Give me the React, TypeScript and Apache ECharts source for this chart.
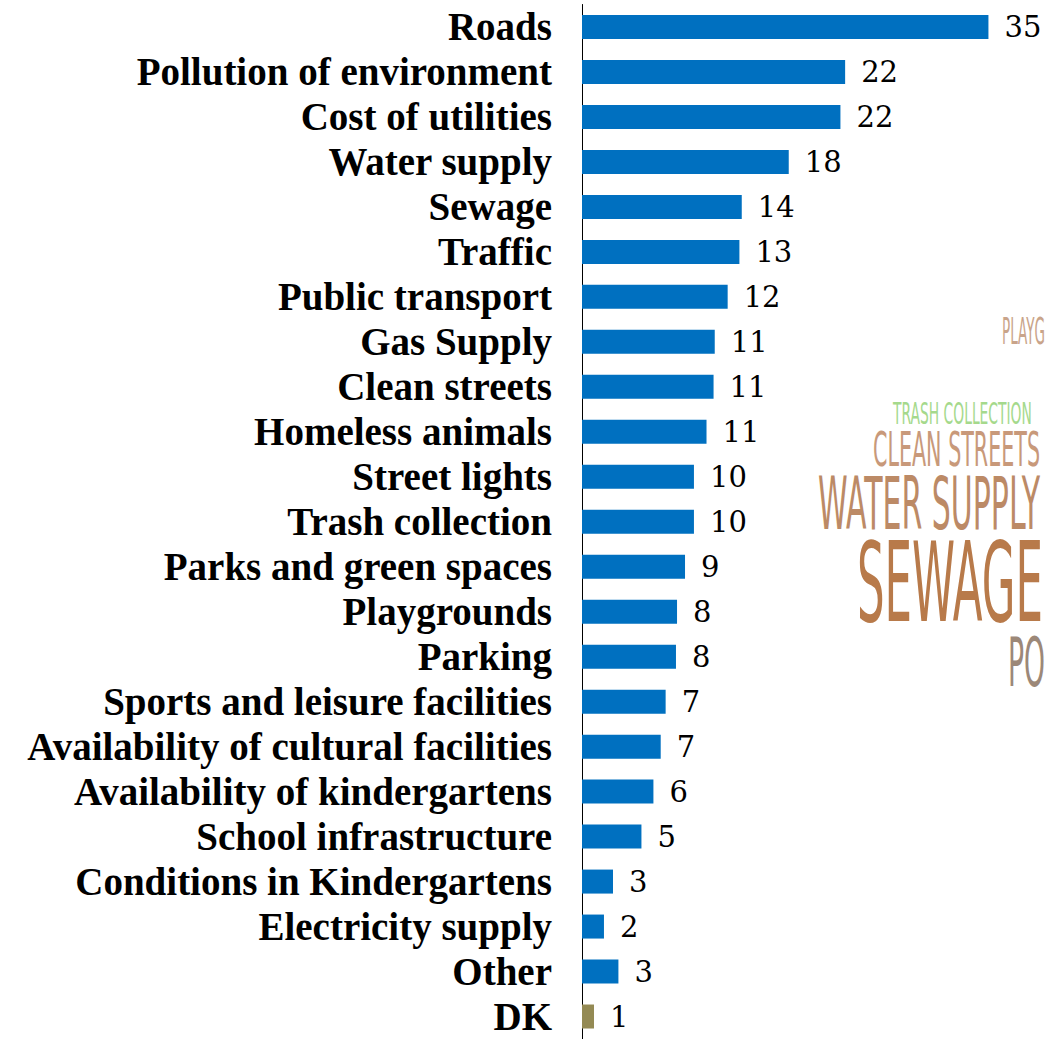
import React, { useEffect, useRef } from "react";
import * as echarts from "echarts";

const categories = [
  "Roads",
  "Pollution of environment",
  "Cost of utilities",
  "Water supply",
  "Sewage",
  "Traffic",
  "Public transport",
  "Gas Supply",
  "Clean streets",
  "Homeless animals",
  "Street lights",
  "Trash collection",
  "Parks and green spaces",
  "Playgrounds",
  "Parking",
  "Sports and leisure facilities",
  "Availability of cultural facilities",
  "Availability of kindergartens",
  "School infrastructure",
  "Conditions in Kindergartens",
  "Electricity supply",
  "Other",
  "DK",
];

const values = [
  34.6, 22.4, 22.0, 17.6, 13.6, 13.4, 12.4, 11.3, 11.2, 10.6, 9.53, 9.53, 8.77,
  8.09, 8.0, 7.12, 6.7, 6.08, 5.06, 2.64, 1.87, 3.1, 1.02,
];

const highlightCategory = "DK";

const cloudWords = [
  { text: "PLAYG", color: "#C9A48A" },
  { text: "TRASH COLLECTION", color: "#A5D98C" },
  { text: "CLEAN STREETS", color: "#C8997A" },
  { text: "WATER SUPPLY", color: "#BC8A66" },
  { text: "SEWAGE", color: "#B87A4A" },
  { text: "PO", color: "#9C8878" },
];

// layout of the word-cloud fragment: left, cap-top, cap-bottom, target width
const cloudLayout = [
  { left: 1002, top: 318, bottom: 345, width: 43 },
  { left: 893, top: 403, bottom: 425, width: 139 },
  { left: 873, top: 432, bottom: 467, width: 167 },
  { left: 818, top: 477, bottom: 530, width: 222 },
  { left: 857, top: 542, bottom: 623, width: 186 },
  { left: 1008, top: 637, bottom: 687, width: 37 },
];

const CLOUD_FONT = '"DejaVu Sans"';
const CAP_RATIO = 0.73;

export default function App() {
  const ref = useRef<HTMLDivElement>(null);

  useEffect(() => {
    document.body.style.margin = "0";
    document.body.style.overflow = "hidden";
    if (!ref.current) return;
    const chart = echarts.init(ref.current, undefined, { renderer: "svg" });

    const canvas = document.createElement("canvas");
    const ctx = canvas.getContext("2d")!;

    const graphics: any[] = cloudWords.map((w, i) => {
      const l = cloudLayout[i];
      const cap = l.bottom - l.top;
      const fontSize = cap / CAP_RATIO;
      ctx.font = `${fontSize}px ${CLOUD_FONT}`;
      const measured = ctx.measureText(w.text).width;
      const scaleX = l.width / measured;
      return {
        type: "text",
        x: l.left,
        y: (l.top + l.bottom) / 2,
        scaleX,
        silent: true,
        style: {
          text: w.text,
          fill: w.color,
          font: `${fontSize}px ${CLOUD_FONT}`,
          textAlign: "left",
          textVerticalAlign: "middle",
        },
      };
    });

    chart.setOption({
      animation: false,
      backgroundColor: "#ffffff",
      grid: { left: 582, top: 4.5, width: 464, height: 1038, containLabel: false },
      xAxis: {
        type: "value",
        min: 0,
        max: 39.5,
        show: false,
      },
      yAxis: {
        type: "category",
        inverse: true,
        data: categories,
        axisLine: { show: true, lineStyle: { color: "#000000", width: 1 } },
        axisTick: { show: false },
        splitLine: { show: false },
        axisLabel: {
          interval: 0,
          margin: 30,
          color: "#000000",
          fontFamily: '"Liberation Serif"',
          fontWeight: "bold",
          fontSize: 39,
        },
      },
      graphic: graphics,
      series: [
        {
          type: "bar",
          barWidth: 24,
          data: values.map((v, i) => ({
            value: v,
            itemStyle: {
              color: categories[i] === highlightCategory ? "#948A54" : "#0070C0",
            },
          })),
          label: {
            show: true,
            position: "right",
            distance: 16,
            color: "#000000",
            fontFamily: '"DejaVu Serif"',
            fontSize: 29,
            formatter: (p: any) => String(Math.round(p.value)),
          },
        },
      ],
    });

    return () => chart.dispose();
  }, []);

  return <div ref={ref} style={{ width: 1047, height: 1039 }} />;
}
